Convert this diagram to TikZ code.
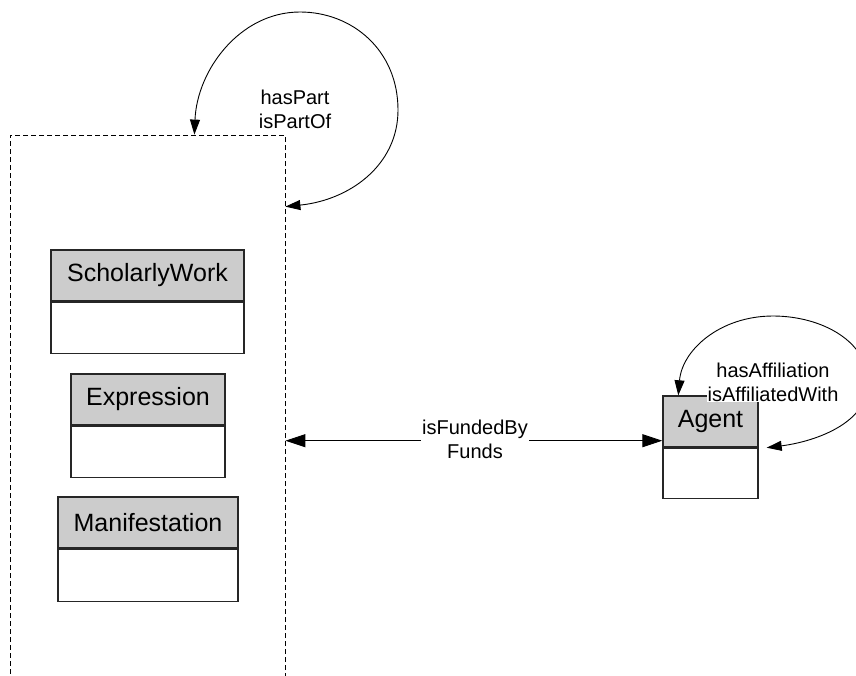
\documentclass[tikz,border=0pt]{standalone}
\usepackage{fontspec}
\setmainfont{Liberation Sans}
\usetikzlibrary{arrows.meta,calc}
\begin{document}
\begin{tikzpicture}[x=1pt,y=-1pt,
  hdr/.style={draw=black!85,line width=1.4pt,fill=gray!40,font=\fontsize{25}{30}\selectfont,inner sep=0pt},
  bdy/.style={draw=black!85,line width=1.4pt,fill=white,inner sep=0pt,anchor=north},
  lbl/.style={fill=white,align=center,font=\fontsize{20}{24}\selectfont,inner sep=1pt},
  conn/.style={line width=0.9pt,black},
  looparrows/.style={arrows={Triangle[length=15pt,width=10pt]-Triangle[length=15pt,width=10pt]}},
  bigarrows/.style={arrows={Triangle[length=20pt,width=13pt]-Triangle[length=20pt,width=13pt]}},
  grp/.style={draw,dashed,dash pattern=on 5pt off 3pt,line width=0.8pt,inner sep=0pt}
]
\useasboundingbox (0,0) rectangle (856,675);
\begin{scope}
\clip (0,0) rectangle (856,675);
% group container (bottom edge outside the picture)
\node[grp,minimum width=275pt,minimum height=580pt] (container) at (147.5,425) {};

% classes
\node[hdr,minimum width=193pt,minimum height=51pt] (swh) at (147.5,275.5) {ScholarlyWork};
\node[bdy,minimum width=193pt,minimum height=51pt] (swb) at (swh.south) {};
\node[hdr,minimum width=154pt,minimum height=51pt] (exh) at (148,399.5) {Expression};
\node[bdy,minimum width=154pt,minimum height=51pt] (exb) at (exh.south) {};
\node[hdr,minimum width=180pt,minimum height=51pt] (mah) at (148,522.5) {Manifestation};
\node[bdy,minimum width=180pt,minimum height=52pt] (mab) at (mah.south) {};
\node[hdr,minimum width=95pt,minimum height=51pt] (agh) at (710.5,421.5) {Agent};
\node[bdy,minimum width=95pt,minimum height=50pt] (agb) at (agh.south) {};

% connection points
\coordinate (ctop) at ([xshift=-91pt]container.north east);
\coordinate (cright) at ([yshift=-72pt]container.north east);
\coordinate (fund) at ([yshift=7pt]agh.south west);
\coordinate (agtop) at ([xshift=16pt]agh.north west);
\coordinate (agright) at (agh.south east);

% hasPart / isPartOf loop
\draw[conn,looparrows] (cright)
  .. controls (350,200) and (398,165) .. (398,110)
  .. controls (398,50) and (352,12) .. (300,12)
  .. controls (240,12) and (197,70) .. (ctop);
\node[lbl] (haspart) at (295,109) {hasPart\\isPartOf};

% isFundedBy / Funds
\draw[conn,bigarrows] (container.east |- fund) -- (fund);
\node[lbl] (funded) at (475,439) {isFundedBy\\Funds};

% hasAffiliation loop
\draw[conn,looparrows] ([xshift=8pt]agright)
  .. controls (812,442) and (866,425) .. (868,385)
  .. controls (870,342) and (822,316) .. (773,316)
  .. controls (720,316) and (682,350) .. (agtop);
\node[lbl] (affil) at (773,382) {hasAffiliation\\isAffiliatedWith};
\end{scope}
\end{tikzpicture}
\end{document}
